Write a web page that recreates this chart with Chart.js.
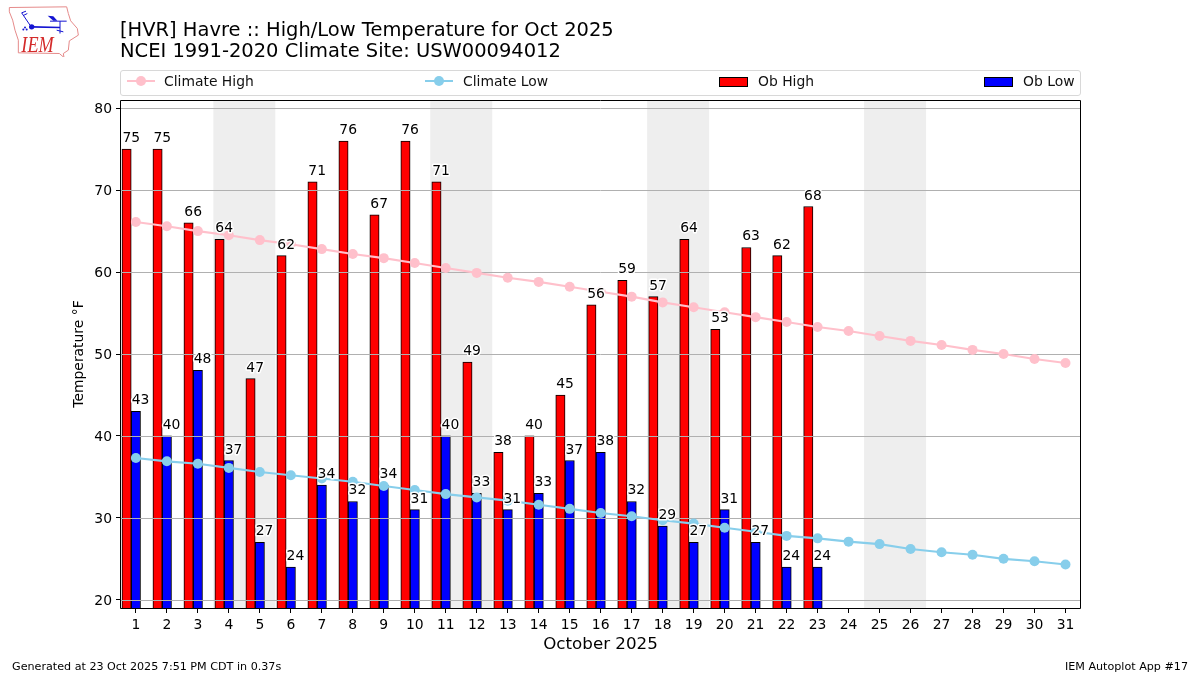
<!DOCTYPE html>
<html>
<head>
<meta charset="utf-8">
<title>Havre High/Low Temperature</title>
<script src="https://cdn.jsdelivr.net/npm/chart.js@4"></script>
<style>
    body { margin: 0; background: #fff; font-family: 'DejaVu Sans', sans-serif; color: #000; }
    #wrap { position: relative; width: 1200px; height: 675px; overflow: hidden; }
    #chart { position: absolute; left: 0; top: 0; }
    #logo { position: absolute; left: 0; top: 0; }
    .title { position: absolute; left: 120px; font-size: 19.48px; line-height: 22px; white-space: nowrap; }
    #legend { position: absolute; left: 120px; top: 70px; width: 959px; height: 24px; border: 1px solid #d8d8d8; border-radius: 3px; }
    .legend-text { position: absolute; top: 1px; font-size: 13.9px; line-height: 18px; color: #111; white-space: nowrap; }
    .legend-line { position: absolute; top: 9px; width: 28px; height: 2px; }
    .legend-dot { position: absolute; top: -4px; left: 9px; width: 10px; height: 10px; border-radius: 50%; }
    .legend-box { position: absolute; top: 6px; width: 27px; height: 8px; border: 1px solid #000; }
    .foot { position: absolute; top: 660px; font-size: 11.15px; line-height: 14px; white-space: nowrap; }
</style>
</head>
<body>
<div id="wrap">
    <canvas id="chart" width="1200" height="675"></canvas>
    <svg id="logo" width="100" height="57" viewBox="0 0 300 170">
        <polygon points="28,22 200,20 205,40 212,62 232,85 235,105 208,122 205,150 190,160 192,172 178,160 55,158 55,120 45,90 38,60 28,35"
            fill="#fff" stroke="#e58a8a" stroke-width="3"/>
        <g stroke="#1414d2" fill="none">
            <path d="M95,80 L180,82" stroke-width="5"/>
            <path d="M65,38 L90,75 M65,38 L78,33 M70,46 L82,40" stroke-width="3"/>
            <path d="M150,63 L200,63 M180,63 L180,100 M170,90 L190,95" stroke-width="3"/>
        </g>
        <circle cx="95" cy="80" r="8" fill="#1414d2"/>
        <polygon points="143,47 160,48 172,62 160,62" fill="#1414d2"/>
        <circle cx="75" cy="82" r="3" fill="#1414d2"/>
        <circle cx="70" cy="88" r="3" fill="#1414d2"/>
        <circle cx="80" cy="88" r="3" fill="#1414d2"/>
        <text x="64" y="156" font-family="Liberation Serif" font-style="italic" font-size="70" textLength="97" lengthAdjust="spacingAndGlyphs" fill="#d42a2a">IEM</text>
    </svg>
    <div class="title" style="top:19px">[HVR] Havre :: High/Low Temperature for Oct 2025</div>
    <div class="title" style="top:40px">NCEI 1991-2020 Climate Site: USW00094012</div>
    <div id="legend"></div>
    <div class="foot" style="left:12px">Generated at 23 Oct 2025 7:51 PM CDT in 0.37s</div>
    <div class="foot" style="right:12px">IEM Autoplot App #17</div>
</div>
<script>
const days = [1, 2, 3, 4, 5, 6, 7, 8, 9, 10, 11, 12, 13, 14, 15, 16, 17, 18, 19, 20, 21, 22, 23, 24, 25, 26, 27, 28, 29, 30, 31];
const obHigh = [75, 75, 66, 64, 47, 62, 71, 76, 67, 76, 71, 49, 38, 40, 45, 56, 59, 57, 64, 53, 63, 62, 68];
const obLow = [43, 40, 48, 37, 27, 24, 34, 32, 34, 31, 40, 33, 31, 33, 37, 38, 32, 29, 27, 31, 27, 24, 24];
const climateHigh = [66.1, 65.6, 65.0, 64.5, 63.9, 63.4, 62.8, 62.2, 61.7, 61.1, 60.5, 59.9, 59.3, 58.8, 58.2, 57.6,
    57.0, 56.3, 55.7, 55.1, 54.5, 53.9, 53.3, 52.8, 52.2, 51.6, 51.1, 50.5, 50.0, 49.4, 48.9];
const climateLow = [37.3, 36.9, 36.6, 36.1, 35.6, 35.2, 34.8, 34.4, 33.9, 33.4, 32.9, 32.5, 32.1, 31.6, 31.1, 30.6,
    30.2, 29.7, 29.3, 28.8, 28.3, 27.8, 27.5, 27.1, 26.8, 26.2, 25.8, 25.5, 25.0, 24.7, 24.3];
const weekends = [[4, 5], [11, 12], [18, 19], [25, 26]];

const tickFont = { family: 'DejaVu Sans', size: 13.9 };
const highColor = '#ff0000';
const lowColor = '#0000ff';
const climateHighColor = '#ffc0cb';
const climateLowColor = '#87ceeb';
const gridColor = '#b0b0b0';
const barWidth = 0.3;

function lineDataset(label, values, color) {
    return {
        type: 'line',
        label,
        data: values.map((value, i) => ({ x: days[i], y: value })),
        borderColor: color,
        backgroundColor: color,
        borderWidth: 2.1,
        pointRadius: 5,
        pointBorderWidth: 0,
        pointBackgroundColor: color,
        tension: 0,
    };
}

function barDataset(label, values, color, shift) {
    return {
        type: 'bar',
        label,
        data: values.map((value, i) => ({ x: days[i] + shift, y: value })),
        backgroundColor: color,
        borderColor: '#000',
        borderWidth: 1,
        grouped: false,
        categoryPercentage: 1,
        barPercentage: 1,
    };
}

// weekend bands sit under the bars
const weekendBands = {
    id: 'weekendBands',
    beforeDatasetsDraw(chart) {
        const { ctx, chartArea, scales } = chart;
        ctx.save();
        ctx.fillStyle = '#eeeeee';
        weekends.forEach(pair => {
            const left = scales.x.getPixelForValue(pair[0] - 0.5);
            const right = scales.x.getPixelForValue(pair[1] + 0.5);
            ctx.fillRect(left, chartArea.top, right - left, chartArea.height);
        });
        ctx.restore();
    },
};

// the grid goes over the bars but under the climate lines
const gridOverBars = {
    id: 'gridOverBars',
    afterDatasetDraw(chart, args) {
        if (args.index !== 2) return;
        const { ctx, chartArea, scales } = chart;
        ctx.save();
        ctx.strokeStyle = gridColor;
        ctx.lineWidth = 1;
        scales.y.ticks.forEach(tick => {
            const y = Math.round(scales.y.getPixelForValue(tick.value)) + 0.5;
            ctx.beginPath();
            ctx.moveTo(chartArea.left, y);
            ctx.lineTo(chartArea.right, y);
            ctx.stroke();
        });
        ctx.restore();
    },
};

const barLabels = {
    id: 'barLabels',
    afterDatasetsDraw(chart) {
        const { ctx, scales, chartArea } = chart;
        ctx.save();
        ctx.font = '13.9px "DejaVu Sans"';
        ctx.textAlign = 'center';
        ctx.textBaseline = 'alphabetic';
        ctx.lineJoin = 'round';
        [[obHigh, -barWidth / 2], [obLow, barWidth / 2]].forEach(([values, shift]) => {
            values.forEach((value, i) => {
                const x = scales.x.getPixelForValue(days[i] + shift);
                const y = scales.y.getPixelForValue(value) - 7;
                ctx.strokeStyle = '#fff';
                ctx.lineWidth = 3;
                ctx.strokeText(value, x, y);
                ctx.fillStyle = '#000';
                ctx.fillText(value, x, y);
            });
        });
        ctx.strokeStyle = '#000';
        ctx.lineWidth = 1;
        ctx.strokeRect(chartArea.left - 0.5, chartArea.top + 0.5, chartArea.width + 1, chartArea.height);
        ctx.restore();
    },
};

function buildLegend() {
    const legend = document.getElementById('legend');
    const add = (className, left, style, text) => {
        const element = document.createElement('div');
        element.className = className;
        element.style.left = left + 'px';
        if (style) element.style.background = style;
        if (text) element.textContent = text;
        legend.appendChild(element);
        return element;
    };
    [['Climate High', climateHighColor, 6, 43], ['Climate Low', climateLowColor, 304, 342]].forEach(([text, color, left, textLeft]) => {
        const line = add('legend-line', left, color);
        const dot = document.createElement('div');
        dot.className = 'legend-dot';
        dot.style.background = color;
        line.appendChild(dot);
        add('legend-text', textLeft, null, text);
    });
    [['Ob High', highColor, 598, 637], ['Ob Low', lowColor, 863, 902]].forEach(([text, color, left, textLeft]) => {
        add('legend-box', left, color);
        add('legend-text', textLeft, null, text);
    });
}

new Chart(document.getElementById('chart'), {
    data: {
        datasets: [
            lineDataset('Climate High', climateHigh, climateHighColor),
            lineDataset('Climate Low', climateLow, climateLowColor),
            barDataset('Ob High', obHigh, highColor, -barWidth),
            barDataset('Ob Low', obLow, lowColor, 0),
        ],
    },
    options: {
        responsive: false,
        animation: false,
        devicePixelRatio: 1,
        layout: { padding: { left: 71, right: 120, top: 100, bottom: 20 } },
        plugins: { legend: { display: false }, tooltip: { enabled: false } },
        scales: {
            x: {
                type: 'linear',
                min: 0.52,
                max: 31.468,
                offset: false,
                afterFit: scale => { scale.height = 47; },
                grid: { drawOnChartArea: false, tickLength: 5, tickColor: '#000', offset: false },
                border: { display: false },
                ticks: { stepSize: 1, includeBounds: false, color: '#000', font: tickFont, maxRotation: 0, autoSkip: false, padding: 4 },
                title: { display: true, text: 'October 2025', color: '#000', font: { family: 'DejaVu Sans', size: 16.7 }, padding: 0 },
            },
            y: {
                min: 19,
                max: 81,
                afterFit: scale => { scale.width = 50; },
                grid: { drawOnChartArea: false, tickLength: 5, tickColor: '#000' },
                border: { display: false },
                ticks: { stepSize: 10, includeBounds: false, color: '#000', font: tickFont, padding: 4, labelOffset: 1.5 },
                title: { display: true, text: 'Temperature °F', color: '#000', font: { family: 'DejaVu Sans', size: 13.9 }, padding: 0 },
            },
        },
    },
    plugins: [weekendBands, gridOverBars, barLabels],
});

buildLegend();
</script>
</body>
</html>
